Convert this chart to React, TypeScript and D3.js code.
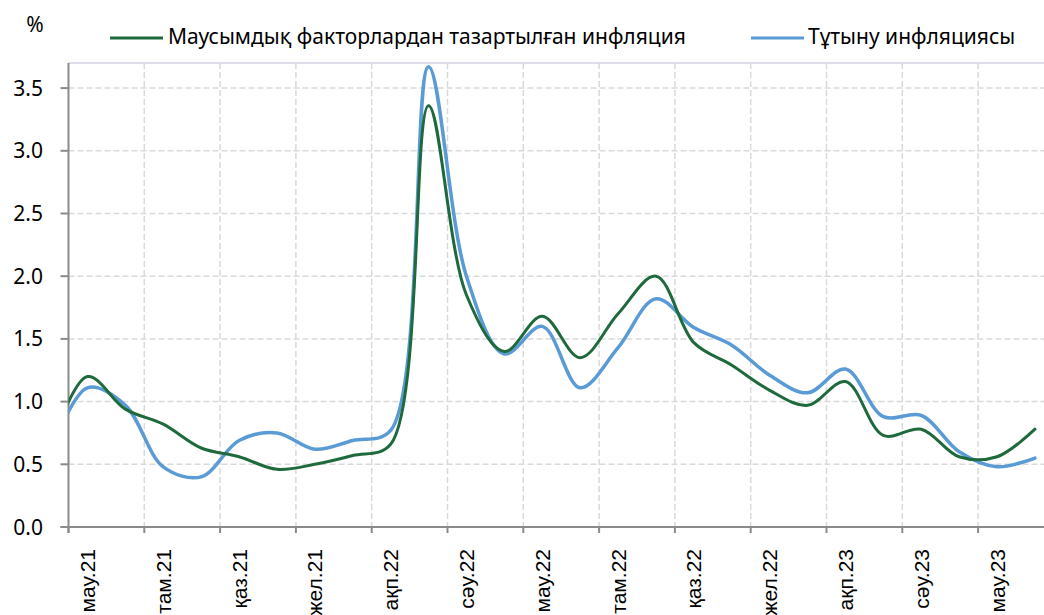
import { useRef, useEffect } from "react";
import * as d3 from "d3";

// monthly data, May 2021 .. Jul 2023 (first month sits left of the axis and is clipped)
const months = [
  "мам.21", "мау.21", "шіл.21", "там.21", "қыр.21", "қаз.21", "қар.21", "жел.21",
  "қаң.22", "ақп.22", "нау.22", "сәу.22", "мам.22", "мау.22", "шіл.22", "там.22",
  "қыр.22", "қаз.22", "қар.22", "жел.22", "қаң.23", "ақп.23", "нау.23", "сәу.23",
  "мам.23", "мау.23", "шіл.23",
];

const coreInfl = [
  0.62, 1.2, 0.94, 0.82, 0.63, 0.56, 0.46, 0.5, 0.57, 0.66, 3.36, 1.85, 1.4, 1.68,
  1.35, 1.7, 2.0, 1.47, 1.29, 1.09, 0.97, 1.16, 0.73, 0.78, 0.56, 0.56, 0.78,
];

const cpiInfl = [
  0.58, 1.11, 0.97, 0.48, 0.4, 0.69, 0.75, 0.62, 0.69, 0.77, 3.67, 2.0, 1.38, 1.6,
  1.11, 1.43, 1.82, 1.59, 1.45, 1.21, 1.07, 1.26, 0.88, 0.89, 0.6, 0.48, 0.55,
];

const yTicks = [0, 0.5, 1, 1.5, 2, 2.5, 3, 3.5];

const seriesNames = ["Маусымдық факторлардан тазартылған инфляция", "Тұтыну инфляциясы"];
const colors = ["#1f6a3c", "#5b9bd5"];

const W = 1044;
const H = 615;

const App = () => {
  const ref = useRef(null);

  useEffect(() => {
    const svg = d3.select(ref.current);
    svg.selectAll("*").remove();

    const plotLeft = 68.5;
    const monthW = 37.9;
    const top = 63;
    const bottom = 527;

    const x = d3
      .scaleBand()
      .domain(months)
      .range([plotLeft - monthW, plotLeft + (months.length - 1) * monthW])
      .padding(0);
    const y = d3.scaleLinear().domain([0, 3.7]).range([bottom, top]);

    svg
      .append("defs")
      .append("clipPath")
      .attr("id", "plot-clip")
      .append("rect")
      .attr("x", plotLeft)
      .attr("y", 0)
      .attr("width", W - plotLeft)
      .attr("height", H);

    const labelMonths = months.filter((d, i) => i % 2 === 1);

    // grid
    const grid = svg.append("g");
    yTicks
      .filter((d) => d > 0)
      .forEach((t) => {
        grid
          .append("line")
          .attr("x1", plotLeft)
          .attr("x2", W)
          .attr("y1", y(t))
          .attr("y2", y(t))
          .attr("stroke", "#d9d9d9")
          .attr("stroke-width", 1.5)
          .attr("stroke-dasharray", "6,3");
      });
    labelMonths.slice(1).forEach((m) => {
      grid
        .append("line")
        .attr("x1", x(m))
        .attr("x2", x(m))
        .attr("y1", top)
        .attr("y2", bottom)
        .attr("stroke", "#d9d9d9")
        .attr("stroke-width", 1.5)
        .attr("stroke-dasharray", "6,3");
    });
    grid
      .append("line")
      .attr("x1", plotLeft)
      .attr("x2", W)
      .attr("y1", top)
      .attr("y2", top)
      .attr("stroke", "#d6d0e2")
      .attr("stroke-width", 1.5);

    // axes
    const axisColor = "#8a8a8a";
    svg
      .append("line")
      .attr("x1", plotLeft)
      .attr("x2", plotLeft)
      .attr("y1", top)
      .attr("y2", bottom + 6)
      .attr("stroke", axisColor)
      .attr("stroke-width", 2);
    svg
      .append("line")
      .attr("x1", plotLeft - 8)
      .attr("x2", W)
      .attr("y1", bottom)
      .attr("y2", bottom)
      .attr("stroke", axisColor)
      .attr("stroke-width", 2);

    yTicks.forEach((t) => {
      svg
        .append("line")
        .attr("x1", plotLeft - 8)
        .attr("x2", plotLeft)
        .attr("y1", y(t))
        .attr("y2", y(t))
        .attr("stroke", axisColor)
        .attr("stroke-width", 2);
      svg
        .append("text")
        .attr("x", 43)
        .attr("y", y(t))
        .attr("dy", "0.36em")
        .attr("text-anchor", "end")
        .attr("font-family", "'Noto Sans', sans-serif")
        .attr("font-size", 21)
        .attr("fill", "#000")
        .text(d3.format(".1f")(t));
    });

    labelMonths.forEach((m) => {
      svg
        .append("line")
        .attr("x1", x(m))
        .attr("x2", x(m))
        .attr("y1", bottom)
        .attr("y2", bottom + 6)
        .attr("stroke", axisColor)
        .attr("stroke-width", 2);
      const cx = x(m) + x.bandwidth() / 2;
      svg
        .append("text")
        .attr("transform", `translate(${cx + 7.5},${549}) rotate(-90)`)
        .attr("text-anchor", "end")
        .attr("font-family", "'Liberation Sans', Arial, sans-serif")
        .attr("font-size", 21)
        .attr("fill", "#000")
        .text(m);
    });

    // lines
    const line = d3
      .line()
      .x((d, i) => x(months[i]) + x.bandwidth() / 2)
      .y((d) => y(d))
      .curve(d3.curveCatmullRom.alpha(0.5));

    const lines = svg.append("g").attr("clip-path", "url(#plot-clip)");
    [cpiInfl, coreInfl].forEach((vals, k) => {
      lines
        .append("path")
        .datum(vals)
        .attr("d", line)
        .attr("fill", "none")
        .attr("stroke", colors[1 - k])
        .attr("stroke-width", k === 0 ? 3.5 : 3)
        .attr("stroke-linecap", "round");
    });

    // legend
    const legend = [
      { x1: 110, x2: 163, tx: 168 },
      { x1: 751, x2: 804, tx: 808 },
    ];
    legend.forEach((l, i) => {
      svg
        .append("line")
        .attr("x1", l.x1)
        .attr("x2", l.x2)
        .attr("y1", 38)
        .attr("y2", 38)
        .attr("stroke", colors[i])
        .attr("stroke-width", 3);
      svg
        .append("text")
        .attr("x", l.tx)
        .attr("y", 44)
        .attr("font-family", "'Noto Sans', sans-serif")
        .attr("font-size", 21)
        .attr("fill", "#000")
        .text(seriesNames[i]);
    });

    svg
      .append("text")
      .attr("x", 35)
      .attr("y", 32)
      .attr("text-anchor", "middle")
      .attr("font-family", "'Noto Sans', sans-serif")
      .attr("font-size", 21)
      .attr("fill", "#000")
      .text("%");
  }, []);

  return (
    <svg
      ref={ref}
      width={W}
      height={H}
      style={{ position: "absolute", left: 0, top: 0, background: "#fff" }}
    />
  );
};

export default App;
